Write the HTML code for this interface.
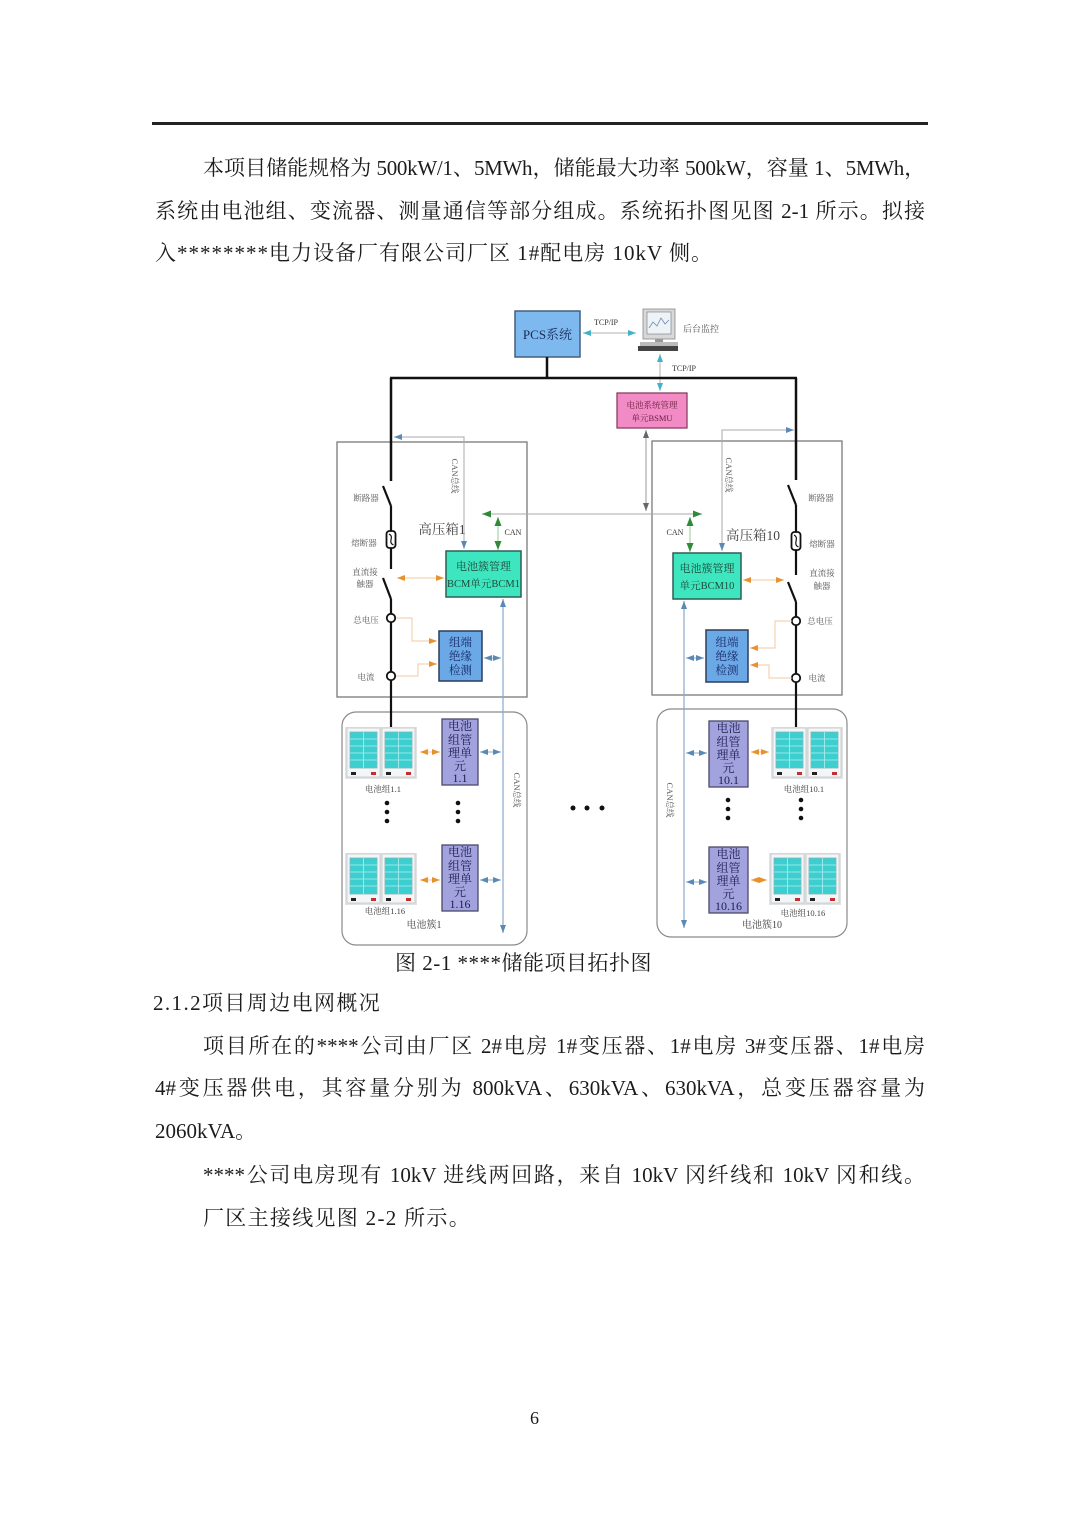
<!DOCTYPE html>
<html lang="zh-CN">
<head>
<meta charset="utf-8">
<style>
  html,body{margin:0;padding:0;background:#fff;}
  body{width:1080px;height:1527px;position:relative;overflow:hidden;
       font-family:"Liberation Serif","Noto Serif CJK SC",serif;color:#1c1c1c;}
  .rule{position:absolute;left:152px;top:122px;width:776px;height:3px;background:#222;}
  .ln{position:absolute;font-size:21px;line-height:30px;white-space:normal;}
  .j{text-align:justify;text-align-last:justify;}
  svg{position:absolute;left:0;top:0;}
</style>
</head>
<body>
<div class="rule"></div>

<div class="ln j" style="left:203px;top:153px;width:722px;letter-spacing:-0.3px;">本项目储能规格为 500kW/1、5MWh，储能最大功率 500kW，容量 1、5MWh，</div>
<div class="ln j" style="left:155px;top:196px;width:770px;">系统由电池组、变流器、测量通信等部分组成。系统拓扑图见图 2-1 所示。拟接</div>
<div class="ln" style="left:155px;top:238px;letter-spacing:1px;">入********电力设备厂有限公司厂区 1#配电房 10kV 侧。</div>

<div class="ln" style="left:395px;top:948px;letter-spacing:0.5px;">图 2-1 ****储能项目拓扑图</div>
<div class="ln" style="left:153px;top:988px;letter-spacing:1.4px;">2.1.2项目周边电网概况</div>
<div class="ln j" style="left:203px;top:1031px;width:722px;">项目所在的****公司由厂区 2#电房 1#变压器、1#电房 3#变压器、1#电房</div>
<div class="ln j" style="left:155px;top:1073px;width:770px;">4#变压器供电，其容量分别为 800kVA、630kVA、630kVA，总变压器容量为</div>
<div class="ln" style="left:155px;top:1116px;">2060kVA。</div>
<div class="ln j" style="left:203px;top:1160px;width:722px;">****公司电房现有 10kV 进线两回路，来自 10kV 冈纤线和 10kV 冈和线。</div>
<div class="ln" style="left:203px;top:1203px;letter-spacing:1.3px;">厂区主接线见图 2-2 所示。</div>
<div class="ln" style="left:530px;top:1403px;font-size:18px;">6</div>

<svg width="1080" height="1527" viewBox="0 0 1080 1527" font-family="'Liberation Serif','Noto Serif CJK SC',serif">
  <defs>
    <marker id="mb" markerUnits="userSpaceOnUse" markerWidth="8" markerHeight="6" refX="8" refY="3" orient="auto-start-reverse"><path d="M0,0 L8,3 L0,6 z" fill="#5b89b5"/></marker>
    <marker id="mo" markerUnits="userSpaceOnUse" markerWidth="8" markerHeight="6" refX="8" refY="3" orient="auto-start-reverse"><path d="M0,0 L8,3 L0,6 z" fill="#e8922e"/></marker>
    <marker id="mg" markerUnits="userSpaceOnUse" markerWidth="9" markerHeight="7" refX="9" refY="3.5" orient="auto-start-reverse"><path d="M0,0 L9,3.5 L0,7 z" fill="#2f8a3a"/></marker>
    <marker id="mc" markerUnits="userSpaceOnUse" markerWidth="8" markerHeight="6" refX="8" refY="3" orient="auto-start-reverse"><path d="M0,0 L8,3 L0,6 z" fill="#3fb3c9"/></marker>
    <marker id="mk" markerUnits="userSpaceOnUse" markerWidth="8" markerHeight="6" refX="8" refY="3" orient="auto-start-reverse"><path d="M0,0 L8,3 L0,6 z" fill="#666"/></marker>
    <g id="cab">
      <rect x="0" y="0" width="33" height="49" fill="#f3f5f6" stroke="#c4c7ca" stroke-width="0.8"/>
      <rect x="3" y="4" width="27" height="36" fill="#3dcfcf" stroke="#7fb5bb" stroke-width="0.8"/>
      <line x1="16.5" y1="4" x2="16.5" y2="40" stroke="#b5eeee" stroke-width="0.8"/>
      <line x1="3" y1="11" x2="30" y2="11" stroke="#b5eeee" stroke-width="0.7"/>
      <line x1="3" y1="18" x2="30" y2="18" stroke="#b5eeee" stroke-width="0.7"/>
      <line x1="3" y1="25" x2="30" y2="25" stroke="#b5eeee" stroke-width="0.7"/>
      <line x1="3" y1="32" x2="30" y2="32" stroke="#b5eeee" stroke-width="0.7"/>
      <rect x="4" y="44" width="5" height="3" fill="#222"/>
      <rect x="24" y="44" width="5" height="3" fill="#c03030"/>
    </g>
    <g id="bat">
      <rect x="0" y="0" width="72" height="52" fill="#e0e2e4"/>
      <use href="#cab" x="2" y="1"/>
      <use href="#cab" x="37" y="1"/>
    </g>
  </defs>

  <!-- PCS -->
  <rect x="515" y="311" width="65" height="46" fill="#7db9ee" stroke="#45607e" stroke-width="1.5"/>
  <text x="547.5" y="339" font-size="13" text-anchor="middle" fill="#1a2a5a">PCS系统</text>
  <line x1="583" y1="333" x2="636" y2="333" stroke="#b0b0b0" stroke-width="1" marker-start="url(#mc)" marker-end="url(#mc)"/>
  <text x="606" y="325" font-size="8" text-anchor="middle" fill="#333">TCP/IP</text>

  <!-- computer -->
  <rect x="643" y="309" width="32" height="30" fill="#d6d8da" stroke="#888" stroke-width="0.8"/>
  <rect x="647" y="312" width="24" height="22" fill="#eef3f8" stroke="#777" stroke-width="0.6"/>
  <polyline points="649,328 653,322 657,326 661,318 665,324 669,320" fill="none" stroke="#6a8ab0" stroke-width="0.8"/>
  <rect x="655" y="339" width="8" height="3" fill="#999"/>
  <rect x="640" y="342" width="38" height="4" fill="#bbb"/>
  <rect x="638" y="346" width="40" height="5" fill="#444"/>
  <text x="683" y="332" font-size="9" fill="#555">后台监控</text>

  <line x1="660" y1="354" x2="660" y2="391" stroke="#b0b0b0" stroke-width="1" marker-start="url(#mc)" marker-end="url(#mc)"/>
  <text x="684" y="371" font-size="8" text-anchor="middle" fill="#333">TCP/IP</text>

  <!-- BSMU -->
  <rect x="617" y="393" width="70" height="35" fill="#f28ac6" stroke="#8a4060" stroke-width="1.3"/>
  <text x="652" y="408" font-size="8.5" text-anchor="middle" fill="#6a2040">电池系统管理</text>
  <text x="652" y="421" font-size="8.5" text-anchor="middle" fill="#6a2040">单元BSMU</text>

  <!-- HV boxes -->
  <rect x="337" y="442" width="190" height="255" fill="none" stroke="#7a7a7a" stroke-width="1.3"/>
  <rect x="652" y="441" width="190" height="254" fill="none" stroke="#7a7a7a" stroke-width="1.3"/>

  <!-- clusters -->
  <rect x="342" y="712" width="185" height="233" rx="14" fill="none" stroke="#8a8a8a" stroke-width="1.2"/>
  <rect x="657" y="709" width="190" height="228" rx="14" fill="none" stroke="#8a8a8a" stroke-width="1.2"/>

  <!-- power bus -->
  <g stroke="#111" stroke-width="2.5" fill="none">
    <line x1="547" y1="357" x2="547" y2="378"/>
    <line x1="390" y1="378" x2="797" y2="378"/>
    <line x1="391" y1="378" x2="391" y2="481"/>
    <line x1="796" y1="378" x2="796" y2="480"/>
  </g>

  <!-- BSMU down -->
  <line x1="646" y1="430" x2="646" y2="511" stroke="#9a9a9a" stroke-width="1" marker-start="url(#mk)" marker-end="url(#mk)"/>
  <!-- CAN horizontal -->
  <line x1="482" y1="514" x2="702" y2="514" stroke="#aaa" stroke-width="1" marker-start="url(#mg)" marker-end="url(#mg)"/>
  <line x1="498" y1="517" x2="498" y2="550" stroke="#9c9" stroke-width="1" marker-start="url(#mg)" marker-end="url(#mg)"/>
  <line x1="690" y1="517" x2="690" y2="552" stroke="#9c9" stroke-width="1" marker-start="url(#mg)" marker-end="url(#mg)"/>
  <text x="513" y="535" font-size="8" text-anchor="middle" fill="#333">CAN</text>
  <text x="675" y="535" font-size="8" text-anchor="middle" fill="#333">CAN</text>

  <!-- top CAN bus lines -->
  <polyline points="464,549 464,437 394,437" fill="none" stroke="#aaa" stroke-width="1" marker-start="url(#mb)" marker-end="url(#mb)"/>
  <polyline points="722,551 722,430 794,430" fill="none" stroke="#aaa" stroke-width="1" marker-start="url(#mb)" marker-end="url(#mb)"/>
  <text transform="translate(455,476) rotate(90)" font-size="8.5" text-anchor="middle" fill="#555" dominant-baseline="central">CAN总线</text>
  <text transform="translate(729,475) rotate(90)" font-size="8.5" text-anchor="middle" fill="#555" dominant-baseline="central">CAN总线</text>

  <!-- LEFT switchgear -->
  <g stroke="#111" stroke-width="2.2" fill="none">
    <line x1="383" y1="486" x2="391" y2="506"/>
    <line x1="391" y1="506" x2="391" y2="531"/>
    <line x1="391" y1="548" x2="391" y2="569"/>
    <line x1="383" y1="578" x2="391" y2="599"/>
    <line x1="391" y1="599" x2="391" y2="614"/>
    <line x1="391" y1="622" x2="391" y2="672"/>
    <line x1="391" y1="680" x2="391" y2="727"/>
  </g>
  <rect x="386.5" y="531" width="9" height="17" rx="3" fill="#fff" stroke="#111" stroke-width="1.8"/>
  <path d="M389,534 C395,537 387,542 393.5,545" fill="none" stroke="#111" stroke-width="1.2"/>
  <circle cx="391" cy="618" r="4.2" fill="#fff" stroke="#111" stroke-width="1.8"/>
  <circle cx="391" cy="676" r="4.2" fill="#fff" stroke="#111" stroke-width="1.8"/>
  <g font-size="8.5" fill="#555" text-anchor="middle">
    <text x="366" y="501">断路器</text>
    <text x="364" y="546">熔断器</text>
    <text x="365" y="575">直流接</text>
    <text x="365" y="587">触器</text>
    <text x="366" y="623">总电压</text>
    <text x="366" y="680">电流</text>
  </g>
  <text x="442" y="534" font-size="13.5" text-anchor="middle" fill="#444">高压箱1</text>

  <rect x="446" y="551" width="75" height="46" fill="#3ee6c0" stroke="#2f5f55" stroke-width="1.5"/>
  <text x="483.5" y="570" font-size="11" text-anchor="middle" fill="#1e4a3a">电池簇管理</text>
  <text x="483.5" y="587" font-size="10.5" text-anchor="middle" fill="#1e4a3a">BCM单元BCM1</text>
  <line x1="397" y1="578" x2="444" y2="578" stroke="#f0c8a0" stroke-width="1" marker-start="url(#mo)" marker-end="url(#mo)"/>

  <rect x="439" y="631" width="43" height="50" fill="#6aa8e6" stroke="#2d3d5a" stroke-width="1.5"/>
  <g font-size="11.5" text-anchor="middle" fill="#1a2a6a">
    <text x="460.5" y="646">组端</text>
    <text x="460.5" y="660">绝缘</text>
    <text x="460.5" y="674">检测</text>
  </g>
  <polyline points="396,618 412,618 412,641 437,641" fill="none" stroke="#f0c8a0" stroke-width="1" marker-end="url(#mo)"/>
  <polyline points="396,676 418,676 418,664 437,664" fill="none" stroke="#f0c8a0" stroke-width="1" marker-end="url(#mo)"/>
  <line x1="484" y1="658" x2="501" y2="658" stroke="#8aa8c8" stroke-width="1" marker-start="url(#mb)" marker-end="url(#mb)"/>
  <line x1="503" y1="599" x2="503" y2="933" stroke="#8aa8c8" stroke-width="1.2" marker-start="url(#mb)" marker-end="url(#mb)"/>
  <text transform="translate(517,790) rotate(90)" font-size="8.5" text-anchor="middle" fill="#555" dominant-baseline="central">CAN总线</text>

  <!-- LEFT cluster -->
  <use href="#bat" x="345" y="727"/>
  <use href="#bat" x="345" y="853"/>
  <text x="383" y="792" font-size="8.5" text-anchor="middle" fill="#444">电池组1.1</text>
  <text x="385" y="914" font-size="8.5" text-anchor="middle" fill="#444">电池组1.16</text>
  <rect x="442" y="719" width="36" height="66" fill="#a2a2de" stroke="#4a4a6a" stroke-width="1.3"/>
  <g font-size="12" text-anchor="middle" fill="#1e1e50">
    <text x="460" y="730">电池</text><text x="460" y="744">组管</text><text x="460" y="757">理单</text><text x="460" y="770">元</text><text x="460" y="782">1.1</text>
  </g>
  <rect x="442" y="845" width="36" height="66" fill="#a2a2de" stroke="#4a4a6a" stroke-width="1.3"/>
  <g font-size="12" text-anchor="middle" fill="#1e1e50">
    <text x="460" y="856">电池</text><text x="460" y="870">组管</text><text x="460" y="883">理单</text><text x="460" y="896">元</text><text x="460" y="908">1.16</text>
  </g>
  <line x1="420" y1="752" x2="440" y2="752" stroke="#f0c8a0" stroke-width="1" marker-start="url(#mo)" marker-end="url(#mo)"/>
  <line x1="420" y1="880" x2="440" y2="880" stroke="#f0c8a0" stroke-width="1" marker-start="url(#mo)" marker-end="url(#mo)"/>
  <line x1="480" y1="752" x2="501" y2="752" stroke="#8aa8c8" stroke-width="1" marker-start="url(#mb)" marker-end="url(#mb)"/>
  <line x1="480" y1="880" x2="501" y2="880" stroke="#8aa8c8" stroke-width="1" marker-start="url(#mb)" marker-end="url(#mb)"/>
  <g fill="#111">
    <circle cx="387" cy="803" r="2.3"/><circle cx="387" cy="812" r="2.3"/><circle cx="387" cy="821" r="2.3"/>
    <circle cx="458" cy="803" r="2.3"/><circle cx="458" cy="812" r="2.3"/><circle cx="458" cy="821" r="2.3"/>
  </g>
  <text x="424" y="928" font-size="10" text-anchor="middle" fill="#444">电池簇1</text>

  <!-- middle dots -->
  <g fill="#111">
    <circle cx="573" cy="808" r="2.5"/><circle cx="587" cy="808" r="2.5"/><circle cx="602" cy="808" r="2.5"/>
  </g>

  <!-- RIGHT switchgear -->
  <g stroke="#111" stroke-width="2.2" fill="none">
    <line x1="788" y1="485" x2="796" y2="505"/>
    <line x1="796" y1="505" x2="796" y2="532"/>
    <line x1="796" y1="550" x2="796" y2="575"/>
    <line x1="788" y1="582" x2="796" y2="602"/>
    <line x1="796" y1="602" x2="796" y2="617"/>
    <line x1="796" y1="625" x2="796" y2="674"/>
    <line x1="796" y1="682" x2="796" y2="727"/>
  </g>
  <rect x="791.5" y="532" width="9" height="18" rx="3" fill="#fff" stroke="#111" stroke-width="1.8"/>
  <path d="M794,535 C800,538 792,544 798.5,547" fill="none" stroke="#111" stroke-width="1.2"/>
  <circle cx="796" cy="621" r="4.2" fill="#fff" stroke="#111" stroke-width="1.8"/>
  <circle cx="796" cy="678" r="4.2" fill="#fff" stroke="#111" stroke-width="1.8"/>
  <g font-size="8.5" fill="#555" text-anchor="middle">
    <text x="821" y="501">断路器</text>
    <text x="822" y="547">熔断器</text>
    <text x="822" y="576">直流接</text>
    <text x="822" y="589">触器</text>
    <text x="820" y="624">总电压</text>
    <text x="817" y="681">电流</text>
  </g>
  <text x="753" y="540" font-size="13.5" text-anchor="middle" fill="#444">高压箱10</text>

  <rect x="673" y="553" width="68" height="46" fill="#3ee6c0" stroke="#2f5f55" stroke-width="1.5"/>
  <text x="707" y="572" font-size="11" text-anchor="middle" fill="#1e4a3a">电池簇管理</text>
  <text x="707" y="589" font-size="10.5" text-anchor="middle" fill="#1e4a3a">单元BCM10</text>
  <line x1="743" y1="580" x2="784" y2="580" stroke="#f0c8a0" stroke-width="1" marker-start="url(#mo)" marker-end="url(#mo)"/>

  <rect x="706" y="630" width="42" height="52" fill="#6aa8e6" stroke="#2d3d5a" stroke-width="1.5"/>
  <g font-size="11.5" text-anchor="middle" fill="#1a2a6a">
    <text x="727" y="646">组端</text>
    <text x="727" y="660">绝缘</text>
    <text x="727" y="674">检测</text>
  </g>
  <polyline points="792,621 775,621 775,648 750,648" fill="none" stroke="#f0c8a0" stroke-width="1" marker-end="url(#mo)"/>
  <polyline points="792,678 769,678 769,665 750,665" fill="none" stroke="#f0c8a0" stroke-width="1" marker-end="url(#mo)"/>
  <line x1="686" y1="658" x2="704" y2="658" stroke="#8aa8c8" stroke-width="1" marker-start="url(#mb)" marker-end="url(#mb)"/>
  <line x1="684" y1="601" x2="684" y2="928" stroke="#8aa8c8" stroke-width="1.2" marker-start="url(#mb)" marker-end="url(#mb)"/>
  <text transform="translate(670,800) rotate(90)" font-size="8.5" text-anchor="middle" fill="#555" dominant-baseline="central">CAN总线</text>

  <!-- RIGHT cluster -->
  <use href="#bat" x="771" y="727"/>
  <use href="#bat" x="769" y="853"/>
  <text x="804" y="792" font-size="8.5" text-anchor="middle" fill="#444">电池组10.1</text>
  <text x="803" y="916" font-size="8.5" text-anchor="middle" fill="#444">电池组10.16</text>
  <rect x="709" y="721" width="39" height="66" fill="#a2a2de" stroke="#4a4a6a" stroke-width="1.3"/>
  <g font-size="12" text-anchor="middle" fill="#1e1e50">
    <text x="728.5" y="732">电池</text><text x="728.5" y="746">组管</text><text x="728.5" y="759">理单</text><text x="728.5" y="772">元</text><text x="728.5" y="784">10.1</text>
  </g>
  <rect x="709" y="847" width="39" height="66" fill="#a2a2de" stroke="#4a4a6a" stroke-width="1.3"/>
  <g font-size="12" text-anchor="middle" fill="#1e1e50">
    <text x="728.5" y="858">电池</text><text x="728.5" y="872">组管</text><text x="728.5" y="885">理单</text><text x="728.5" y="898">元</text><text x="728.5" y="910">10.16</text>
  </g>
  <line x1="686" y1="753" x2="707" y2="753" stroke="#8aa8c8" stroke-width="1" marker-start="url(#mb)" marker-end="url(#mb)"/>
  <line x1="686" y1="882" x2="707" y2="882" stroke="#8aa8c8" stroke-width="1" marker-start="url(#mb)" marker-end="url(#mb)"/>
  <line x1="751" y1="752" x2="769" y2="752" stroke="#f0c8a0" stroke-width="1" marker-start="url(#mo)" marker-end="url(#mo)"/>
  <line x1="751" y1="880" x2="767" y2="880" stroke="#f0c8a0" stroke-width="1" marker-start="url(#mo)" marker-end="url(#mo)"/>
  <g fill="#111">
    <circle cx="728" cy="800" r="2.3"/><circle cx="728" cy="809" r="2.3"/><circle cx="728" cy="818" r="2.3"/>
    <circle cx="801" cy="800" r="2.3"/><circle cx="801" cy="809" r="2.3"/><circle cx="801" cy="818" r="2.3"/>
  </g>
  <text x="762" y="928" font-size="10" text-anchor="middle" fill="#444">电池簇10</text>
</svg>
</body>
</html>
